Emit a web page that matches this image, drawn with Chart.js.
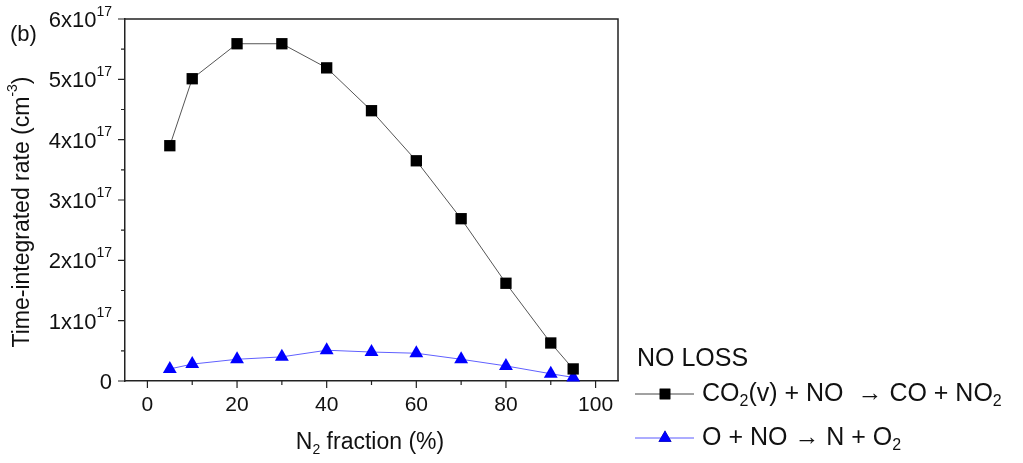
<!DOCTYPE html>
<html>
<head>
<meta charset="utf-8">
<script src="https://cdn.jsdelivr.net/npm/chart.js@4/dist/chart.umd.min.js"></script>
<style>
  html, body { margin: 0; padding: 0; background: #fff; }
  #chart { display: block; }
</style>
</head>
<body>
<canvas id="chart" width="1023" height="463"></canvas>
<script>
const n2Fraction = [5, 10, 20, 30, 40, 50, 60, 70, 80, 90, 95];
const co2vRate = [3.9e17, 5.01e17, 5.59e17, 5.59e17, 5.19e17, 4.48e17, 3.65e17, 2.69e17, 1.62e17, 0.63e17, 0.2e17];
const oRate = [0.2e17, 0.28e17, 0.36e17, 0.4e17, 0.51e17, 0.48e17, 0.46e17, 0.36e17, 0.25e17, 0.12e17, 0.06e17];
const xTicks = [0, 20, 40, 60, 80, 100];
const yTicks = [0, 1e17, 2e17, 3e17, 4e17, 5e17, 6e17];

const FONT = '"Liberation Sans", Arial, sans-serif';
const AXIS = '#222';

// draws text with a sub- or superscript part: parts = [[text, 'n'|'sub'|'sup'], ...]
function richText(ctx, parts, x, y, size) {
    let cx = x;
    parts.forEach(([t, kind]) => {
        const s = kind === 'n' ? size : Math.round(size * 0.62);
        ctx.font = s + 'px ' + FONT;
        const dy = kind === 'sub' ? size * 0.3 : kind === 'sup' ? -size * 0.42 : 0;
        ctx.fillText(t, cx, y + dy);
        cx += ctx.measureText(t).width;
    });
    return cx - x;
}

function richWidth(ctx, parts, size) {
    let w = 0;
    parts.forEach(([t, kind]) => {
        const s = kind === 'n' ? size : Math.round(size * 0.62);
        ctx.font = s + 'px ' + FONT;
        w += ctx.measureText(t).width;
    });
    return w;
}

const decorations = {
    id: 'decorations',
    afterDraw(chart) {
        const ctx = chart.ctx;
        const xs = chart.scales.x, ys = chart.scales.y;
        const a = chart.chartArea;
        ctx.save();
        ctx.strokeStyle = AXIS;
        ctx.lineWidth = 1.5;

        // frame: top and right edges
        ctx.beginPath();
        ctx.moveTo(a.left, a.top);
        ctx.lineTo(a.right, a.top);
        ctx.lineTo(a.right, a.bottom);
        ctx.stroke();

        // tick marks, pointing outwards
        ctx.lineWidth = 1.2;
        ctx.beginPath();
        for (let v = 0; v <= 100; v += 10) {
            const px = xs.getPixelForValue(v);
            const len = v % 20 === 0 ? 7 : 4;
            ctx.moveTo(px, a.bottom);
            ctx.lineTo(px, a.bottom + len);
        }
        for (let i = 0; i <= 12; i++) {
            const py = ys.getPixelForValue(i * 0.5e17);
            const len = i % 2 === 0 ? 7 : 4;
            ctx.moveTo(a.left, py);
            ctx.lineTo(a.left - len, py);
        }
        ctx.stroke();

        ctx.fillStyle = '#111';
        ctx.textBaseline = 'middle';

        // x tick labels
        ctx.font = '21px ' + FONT;
        ctx.textAlign = 'center';
        xTicks.forEach(v => ctx.fillText(String(v), xs.getPixelForValue(v), a.bottom + 24));

        // y tick labels, a x 10^17
        ctx.textAlign = 'left';
        yTicks.forEach(v => {
            const py = ys.getPixelForValue(v) + 2;
            const parts = v === 0 ? [['0', 'n']] : [[(v / 1e17).toFixed(0) + 'x10', 'n'], ['17', 'sup']];
            const w = richWidth(ctx, parts, 22);
            richText(ctx, parts, 112 - w, py, 22);
        });

        // x axis title
        const xt = [['N', 'n'], ['2', 'sub'], [' fraction (%)', 'n']];
        const xtw = richWidth(ctx, xt, 23);
        richText(ctx, xt, 370 - xtw / 2, 443, 23);

        // y axis title, rotated
        ctx.save();
        ctx.translate(23, 212);
        ctx.rotate(-Math.PI / 2);
        const yt = [['Time-integrated rate (cm', 'n'], ['-3', 'sup'], [')', 'n']];
        const ytw = richWidth(ctx, yt, 23);
        richText(ctx, yt, -ytw / 2, 0, 23);
        ctx.restore();

        // panel label
        ctx.font = '22px ' + FONT;
        ctx.fillText('(b)', 10, 35);

        // legend
        const rows = [
            { y: 394, line: '#444', mark: 'rect', fill: '#000',
              text: [['CO', 'n'], ['2', 'sub'], ['(v) + NO  \u2192 CO + NO', 'n'], ['2', 'sub']] },
            { y: 438, line: '#5a5aff', mark: 'triangle', fill: '#0000ff',
              text: [['O + NO \u2192 N + O', 'n'], ['2', 'sub']] }
        ];
        ctx.font = '25px ' + FONT;
        ctx.fillText('NO LOSS', 637, 359);
        rows.forEach(r => {
            ctx.strokeStyle = r.line;
            ctx.lineWidth = 1;
            ctx.beginPath();
            ctx.moveTo(635, r.y);
            ctx.lineTo(694, r.y);
            ctx.stroke();
            Chart.helpers.drawPoint(ctx, { pointStyle: r.mark, radius: 7.5, borderWidth: 0 }, 665, r.y);
            ctx.fillStyle = r.fill;
            ctx.fill();
            ctx.fillStyle = '#111';
            richText(ctx, r.text, 702, r.y, 25);
        });
        ctx.restore();
    }
};

new Chart(document.querySelector('#chart').getContext('2d'), {
    type: 'line',
    data: {
        labels: n2Fraction,
        datasets: [
            {
                label: 'CO2(v) + NO -> CO + NO2',
                data: n2Fraction.map((x, i) => ({ x, y: co2vRate[i] })),
                borderColor: '#555',
                borderWidth: 1,
                pointStyle: 'rect',
                pointRadius: 8,
                pointBackgroundColor: '#000',
                pointBorderColor: '#000',
                pointBorderWidth: 0,
                clip: false
            },
            {
                label: 'O + NO -> N + O2',
                data: n2Fraction.map((x, i) => ({ x, y: oRate[i] })),
                borderColor: '#6060ff',
                borderWidth: 1,
                pointStyle: 'triangle',
                pointRadius: 8,
                pointBackgroundColor: '#0000ff',
                pointBorderColor: '#0000ff',
                pointBorderWidth: 0,
                clip: false
            }
        ]
    },
    options: {
        responsive: false,
        animation: false,
        layout: { padding: { left: 0, right: 405, top: 19, bottom: 82 } },
        plugins: { legend: { display: false }, tooltip: { enabled: false } },
        scales: {
            x: {
                type: 'linear', min: -5, max: 105,
                ticks: { display: false },
                grid: { display: false },
                border: { display: true, color: AXIS, width: 1.5 },
                afterFit: s => { s.height = 0; }
            },
            y: {
                min: 0, max: 6e17,
                ticks: { display: false },
                grid: { display: false },
                border: { display: true, color: AXIS, width: 1.5 },
                afterFit: s => { s.width = 125; }
            }
        }
    },
    plugins: [decorations]
});
</script>
</body>
</html>
